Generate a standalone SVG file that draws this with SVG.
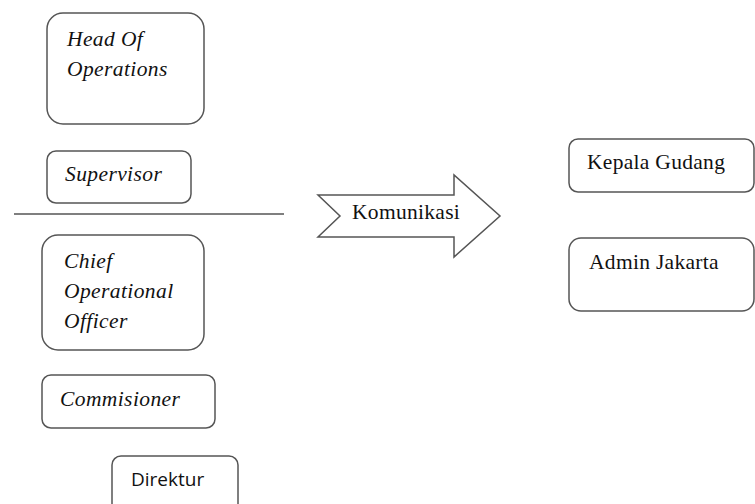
<svg xmlns="http://www.w3.org/2000/svg" width="755" height="504" viewBox="0 0 755 504">
<style>
.box{fill:#fff;stroke:#555;stroke-width:1.5}
.it{font-family:"Liberation Serif",serif;font-style:italic;font-size:21.5px;letter-spacing:0.4px;fill:#111}
.rm{font-family:"Liberation Serif",serif;font-size:21.5px;letter-spacing:0.3px;fill:#111}
.sn{font-family:"Open Sans","DejaVu Sans",sans-serif;font-size:19px;fill:#111}
</style>
<rect width="755" height="504" fill="#fff"/>
<g id="head-of-operations">
<rect class="box" x="47" y="13" width="157" height="111" rx="16"/>
<text class="it" x="67" y="46">Head Of</text>
<text class="it" x="67" y="76">Operations</text>
</g>
<g id="supervisor">
<rect class="box" x="47" y="151" width="144" height="52" rx="9"/>
<text class="it" x="65" y="181">Supervisor</text>
</g>
<g id="connectors">
<line x1="14" y1="214" x2="284" y2="214" stroke="#555" stroke-width="1.5"/>
</g>
<g id="chief-operational-officer">
<rect class="box" x="42" y="235" width="162" height="115" rx="16"/>
<text class="it" x="64" y="268">Chief</text>
<text class="it" x="64" y="298">Operational</text>
<text class="it" x="64" y="328">Officer</text>
</g>
<g id="commisioner">
<rect class="box" x="42" y="375" width="173" height="53" rx="9"/>
<text class="it" x="60" y="406">Commisioner</text>
</g>
<g id="direktur">
<rect class="box" x="112" y="456" width="126" height="60" rx="9"/>
<text class="sn" x="131" y="486">Direktur</text>
</g>
<g id="komunikasi">
<polygon class="box" points="318,195 454,195 454,175 500,216 454,257 454,237 318,237 340,216"/>
<text class="rm" x="352" y="219">Komunikasi</text>
</g>
<g id="kepala-gudang">
<rect class="box" x="569" y="139" width="185" height="53" rx="9"/>
<text class="rm" x="587" y="169">Kepala Gudang</text>
</g>
<g id="admin-jakarta">
<rect class="box" x="569" y="238" width="185" height="73" rx="12"/>
<text class="rm" x="589" y="269">Admin Jakarta</text>
</g>
</svg>
